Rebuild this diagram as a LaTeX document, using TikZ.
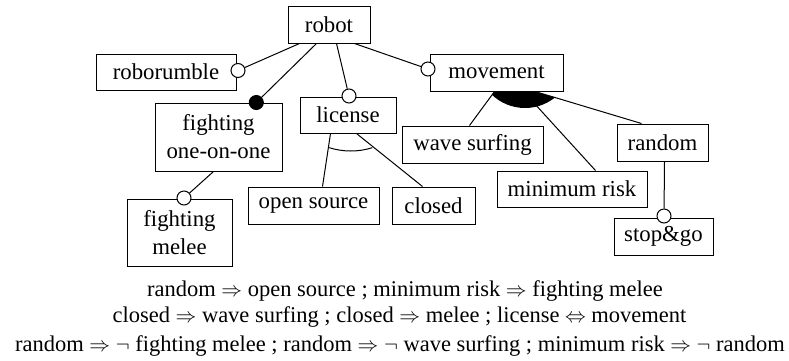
\documentclass[tikz,border=0pt]{standalone}
\usepackage{fontspec}
\setmainfont{Liberation Serif}
\newfontfamily\tms{Liberation Serif}
\begin{document}
\begin{tikzpicture}[x=1pt,y=-1pt,
  box/.style={draw, line width=1pt, fill=white, inner sep=0pt, align=center, font=\tms\fontsize{22.8}{28}\selectfont},
  conn/.style={line width=1pt},
  opt/.style={circle, draw, line width=1pt, fill=white, minimum size=14pt, inner sep=0pt},
  mand/.style={circle, draw, line width=1pt, fill=black, minimum size=14pt, inner sep=0pt},
  cons/.style={font=\tms\fontsize{22.5}{26}\selectfont, inner sep=0pt, anchor=base}]
\useasboundingbox (0,0) rectangle (789,360);
% feature boxes
\node[box, minimum width=82pt, minimum height=37pt] (robot) at (329,24.5) {robot};
\node[box, minimum width=140pt, minimum height=36pt] (roborumble) at (166,72) {roborumble};
\node[box, minimum width=127pt, minimum height=68pt] (fight) at (218.5,137) {fighting\\one-on-one};
\node[box, minimum width=96pt, minimum height=36pt] (license) at (348,115) {license};
\node[box, minimum width=133pt, minimum height=37pt] (movement) at (496.5,72.5) {movement};
\node[box, minimum width=141pt, minimum height=37pt] (wave) at (472.5,144.5) {wave surfing};
\node[box, minimum width=91pt, minimum height=37pt] (random) at (662.5,142.5) {random};
\node[box, minimum width=150pt, minimum height=36pt] (minrisk) at (572,189) {minimum risk};
\node[box, minimum width=83pt, minimum height=37pt] (closed) at (433.5,205.5) {closed};
\node[box, minimum width=131pt, minimum height=37pt] (opensrc) at (313.5,205.5) {open source};
\node[box, minimum width=99pt, minimum height=37pt] (stopgo) at (663.5,236.5) {stop\&go};
\node[box, minimum width=105pt, minimum height=67pt] (melee) at (179.5,232.5) {fighting\\melee};
% alternative group (black sector)
\begin{scope}
\clip ([xshift=65pt]movement.south west) -- ([xshift=105.5pt]movement.south west) -- ([xshift=25pt]random.north west) -- ([xshift=68pt]wave.north west) -- cycle;
\fill (525,60) circle (48pt);
\end{scope}
% circles
\node[opt] (oR) at (238,70.5) {};
\node[mand] (oF) at (256.3,102.5) {};
\node[opt] (oL) at (349,96) {};
\node[opt] (oMv) at (428,69) {};
\node[opt] (oMe) at (184,198) {};
\node[opt] (oS) at (664,216) {};
% connectors
\draw[conn] ([xshift=12pt]robot.south west) -- (oR);
\draw[conn] ([xshift=29pt]robot.south west) -- (oF);
\draw[conn] ([xshift=49pt]robot.south west) -- (oL);
\draw[conn] ([xshift=67pt]robot.south west) -- (oMv);
\draw[conn] ([xshift=59pt]fight.south west) -- (oMe);
\draw[conn] ([xshift=48pt]random.south west) -- (oS);
\draw[conn] ([xshift=31pt]license.south west) -- ([xshift=75pt]opensrc.north west);
\draw[conn] ([xshift=57pt]license.south west) -- ([xshift=31pt]closed.north west);
\draw[conn] ([xshift=65pt]movement.south west) -- ([xshift=68pt]wave.north west);
\draw[conn] ([xshift=94pt]movement.south west) -- ([xshift=99pt]minrisk.north west);
\draw[conn] ([xshift=105.5pt]movement.south west) -- ([xshift=25pt]random.north west);
% or-group arc under license
\draw[conn] (350.8,79.3) ++(252.5:71.7pt) arc[start angle=252.5, end angle=287.5, radius=71.7pt];
% constraints
\node[cons] (t1) at (405,296) {random $\Rightarrow$ open source ; minimum risk $\Rightarrow$ fighting melee};
\node[cons] (t2) at (399.5,322) {closed $\Rightarrow$ wave surfing ; closed $\Rightarrow$ melee ; license $\Leftrightarrow$ movement};
\node[cons] (t3) at (400,351.5) {random $\Rightarrow$ $\neg$ fighting melee ; random $\Rightarrow$ $\neg$ wave surfing ; minimum risk $\Rightarrow$ $\neg$ random};
\end{tikzpicture}
\end{document}
